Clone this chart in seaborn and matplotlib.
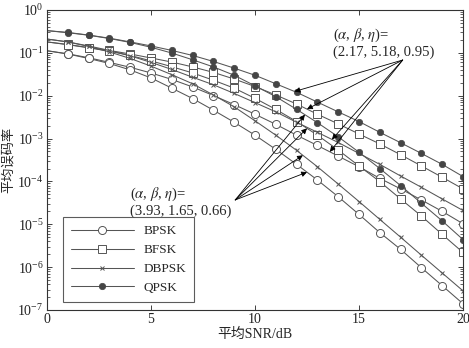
import numpy as np
import pandas as pd
import matplotlib
matplotlib.use("Agg")
import matplotlib.pyplot as plt
import seaborn as sns

snr = list(range(0, 21))

# set A: (alpha, beta, eta) = (2.17, 5.18, 0.95)
bpsk_a = [0.112, 0.095, 0.077, 0.060, 0.046, 0.034, 0.024, 0.016, 0.0101, 6.2e-3, 3.7e-3,
          2.15e-3, 1.2e-3, 6.9e-4, 3.9e-4, 2.2e-4, 1.18e-4, 6.7e-5, 3.7e-5, 2.0e-5, 1.03e-5]
bfsk_a = [0.18, 0.157, 0.133, 0.114, 0.094, 0.076, 0.061, 0.047, 0.035, 0.0245, 0.0164,
          0.0104, 6.4e-3, 3.7e-3, 2.2e-3, 1.28e-3, 7.5e-4, 4.2e-4, 2.3e-4, 1.25e-4, 6.7e-5]
dbpsk_a = [0.21, 0.18, 0.145, 0.114, 0.085, 0.060, 0.041, 0.027, 0.018, 0.0113, 6.9e-3,
           4.2e-3, 2.4e-3, 1.4e-3, 8.1e-4, 4.5e-4, 2.5e-4, 1.34e-4, 7.3e-5, 3.9e-5, 2.1e-5]
qpsk_a = [0.33, 0.30, 0.26, 0.22, 0.18, 0.145, 0.114, 0.087, 0.063, 0.044, 0.030,
          0.019, 0.012, 7.1e-3, 4.2e-3, 2.5e-3, 1.4e-3, 8.0e-4, 4.5e-4, 2.5e-4, 1.3e-4]

# set B: (alpha, beta, eta) = (3.93, 1.65, 0.66)
bpsk_b = [0.112, 0.094, 0.074, 0.0565, 0.040, 0.026, 0.015, 8.6e-3, 4.6e-3, 2.4e-3, 1.2e-3,
          5.6e-4, 2.5e-4, 1.08e-4, 4.4e-5, 1.7e-5, 6.4e-6, 2.6e-6, 9.7e-7, 3.7e-7, 1.4e-7]
bfsk_b = [0.18, 0.155, 0.131, 0.109, 0.087, 0.065, 0.0475, 0.034, 0.023, 0.015, 8.7e-3,
          4.8e-3, 2.5e-3, 1.2e-3, 5.4e-4, 2.3e-4, 9.9e-5, 3.9e-5, 1.56e-5, 5.8e-6, 2.2e-6]
dbpsk_b = [0.21, 0.18, 0.141, 0.105, 0.074, 0.049, 0.031, 0.019, 0.0104, 5.5e-3, 2.6e-3,
           1.2e-3, 5.3e-4, 2.2e-4, 8.7e-5, 3.4e-5, 1.3e-5, 5.0e-6, 1.9e-6, 7.3e-7, 2.8e-7]
qpsk_b = [0.33, 0.295, 0.258, 0.216, 0.175, 0.135, 0.099, 0.069, 0.047, 0.030, 0.017,
          9.5e-3, 4.8e-3, 2.35e-3, 1.1e-3, 4.8e-4, 2.0e-4, 8.0e-5, 3.1e-5, 1.2e-5, 4.4e-6]

mods = ["BPSK", "BFSK", "DBPSK", "QPSK"]
label_a = "(2.17, 5.18, 0.95)"
label_b = "(3.93, 1.65, 0.66)"
xlabel = "平均SNR/dB"
ylabel = "平均误码率"

sns.set_style("ticks")
plt.rcParams["font.family"] = ["Liberation Serif", "Noto Sans CJK SC"]
plt.rcParams["mathtext.fontset"] = "stix"

fig = plt.figure(figsize=(4.69, 3.48), dpi=100)
ax = fig.add_axes([47 / 469, 1 - 310 / 348, 416 / 469, 300 / 348])

line_c = "#555555"
styles = {
    "BPSK": dict(marker="o", markersize=5.8, markerfacecolor="white", markeredgecolor=line_c, markeredgewidth=0.7),
    "BFSK": dict(marker="s", markersize=5.5, markerfacecolor="white", markeredgecolor=line_c, markeredgewidth=0.7),
    "DBPSK": dict(marker="x", markersize=3.4, markeredgecolor=line_c, markeredgewidth=0.7),
    "QPSK": dict(marker="o", markersize=4.6, markerfacecolor="#454545", markeredgecolor="#454545", markeredgewidth=0.5),
}
series_a = {"BPSK": bpsk_a, "BFSK": bfsk_a, "DBPSK": dbpsk_a, "QPSK": qpsk_a}
series_b = {"BPSK": bpsk_b, "BFSK": bfsk_b, "DBPSK": dbpsk_b, "QPSK": qpsk_b}

for m in mods:
    for ser, lab in ((series_a, m), (series_b, None)):
        sns.lineplot(x=snr, y=ser[m], ax=ax, color=line_c, linewidth=0.75,
                     markevery=list(range(1, 21)), label=lab, legend=False, **styles[m])

ax.set_yscale("log")
ax.set_xlim(0, 20)
ax.set_ylim(1e-7, 1)
ax.set_xticks([0, 5, 10, 15, 20])
ax.set_yticks([10.0 ** k for k in range(-7, 1)])
ax.yaxis.set_minor_locator(matplotlib.ticker.LogLocator(base=10, subs=np.arange(2, 10), numticks=20))
ax.yaxis.set_minor_formatter(matplotlib.ticker.NullFormatter())
ax.tick_params(which="both", direction="in", top=True, right=True, labelsize=10, colors="#222222")
ax.tick_params(which="major", length=3.5, width=0.6, pad=2.5)
ax.tick_params(which="minor", length=2, width=0.5)
for s in ax.spines.values():
    s.set_linewidth(0.8)
    s.set_color("#333333")
ax.set_xlabel(xlabel, fontsize=10, labelpad=1)
ax.set_ylabel(ylabel, fontsize=9.5)
ax.yaxis.set_label_coords(-0.077, 0.5)

# annotations
def val_at(ser, x):
    return 10 ** np.interp(x, snr, np.log10(ser))

arrow_kw = dict(arrowstyle="-|>", color="black", lw=0.6, mutation_scale=8, shrinkA=0, shrinkB=0)
tail_a = (17.1, 0.068)
for m, x in (("QPSK", 11.9), ("BFSK", 12.5), ("DBPSK", 13.7), ("BPSK", 13.6)):
    ax.annotate("", xy=(x, val_at(series_a[m], x)), xytext=tail_a, arrowprops=arrow_kw)
tail_b = (9.05, 3.7e-5)
for m, x in (("QPSK", 12.4), ("BFSK", 12.5), ("DBPSK", 12.3), ("BPSK", 12.5)):
    ax.annotate("", xy=(x, val_at(series_b[m], x)), xytext=tail_b, arrowprops=arrow_kw)

ax.text(13.75, 0.40, r"($\alpha$, $\beta$, $\eta$)=" + "\n" + label_a, fontsize=10.5,
        ha="left", va="top", linespacing=1.1)
ax.text(3.98, 7.8e-5, r"($\alpha$, $\beta$, $\eta$)=" + "\n" + label_b, fontsize=10.5,
        ha="left", va="top", linespacing=1.1)

leg = ax.legend(loc="lower left", bbox_to_anchor=(0.038, 0.027), borderaxespad=0,
                handlelength=4.8, handletextpad=0.7, labelspacing=0.5, fontsize=9.5,
                frameon=True, fancybox=False, borderpad=0.6)
leg.get_frame().set_edgecolor("#333333")
leg.get_frame().set_linewidth(0.8)

fig.savefig("out.png", dpi=100)
